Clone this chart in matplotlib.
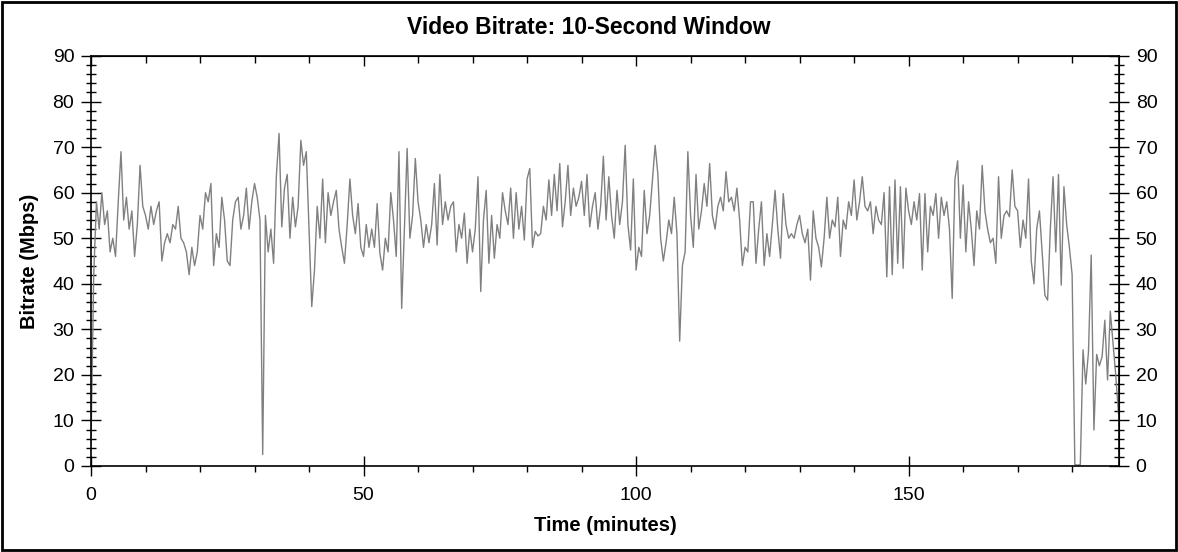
"""
Video bitrate over time, 10-second averaging window.
"""
import numpy as np
import matplotlib
matplotlib.use("Agg")
import matplotlib.pyplot as plt
from matplotlib.patches import Rectangle
from matplotlib.ticker import MultipleLocator

plt.rcParams['font.family'] = ['Liberation Sans', 'DejaVu Sans']

# one reading every half minute (Mbps)
step_min = 0.5
bitrate = [
	# 0-10 min
	5, 42, 58, 52, 60, 53, 56, 47, 50, 46, 58, 69, 54, 59, 52, 56, 46, 53, 66, 57,
	# 10-20
	55, 52, 57, 53, 56, 58, 45, 49, 51, 49, 53, 52, 57, 50, 49, 47, 42, 48, 44, 47,
	# 20-30
	55, 52, 60, 58, 62, 44, 51, 48, 59, 54, 45, 44, 54, 58, 59, 52, 55, 61, 52, 58,
	# 30-40
	62, 59, 54, 2.5, 55, 47, 52, 44.5, 63.5, 73, 52.5, 61, 64, 50, 59, 52.5, 57, 71.5, 66, 69,
	# 40-50
	52, 35, 43, 57, 50, 63, 49, 60, 55, 58, 60.5, 52, 48, 44.5, 53, 63, 55, 51, 57.6, 48,
	# 50-60
	46, 53, 48, 52, 48, 57.6, 46.7, 43, 50, 47, 60, 54, 46, 69, 34.6, 52, 69.7, 50, 55, 67.5,
	# 60-70
	58, 54, 48, 53, 49, 53, 62, 48.5, 64, 53, 58, 54, 57, 58, 47, 53, 50, 55.5, 44.5, 52,
	# 70-80
	47, 52, 63.5, 38.3, 54, 60.5, 44.5, 55, 45.6, 53, 50, 60, 56, 53, 61, 50, 60, 52, 57, 49.6,
	# 80-90
	63, 65.3, 48, 51.5, 50.5, 51, 57, 54, 62.8, 55, 64, 56, 66.4, 52.5, 58, 66, 55, 61, 57, 59,
	# 90-100
	62.5, 55, 64, 52.5, 57, 60, 52, 57, 68, 54, 63.5, 55, 50, 60.5, 53, 58, 70.4, 53, 47.4, 63,
	# 100-110
	43, 48, 46, 60.5, 51, 55, 62.8, 70.4, 64, 50, 45, 49, 54, 51, 59, 51, 27.4, 44, 47, 69,
	# 110-120
	55, 48, 64, 52, 56, 62, 57, 66.4, 55, 52, 57, 59, 56, 64.6, 58, 59, 56, 61, 54, 44,
	# 120-130
	48, 47, 58, 58, 44.5, 52, 58, 44, 51, 46, 53, 60.5, 52, 45.6, 59.8, 53, 50, 51, 50, 53,
	# 130-140
	55, 51, 49, 52, 40.8, 56, 50, 48, 43.7, 50, 59, 50, 54, 52.5, 59, 46, 54, 52, 58, 55,
	# 140-150
	62.8, 54, 58, 63.5, 57, 56, 58, 51, 57, 54, 53, 60, 41.5, 61.3, 42, 62.8, 44.5, 61.3, 43.4, 61,
	# 150-160
	56, 53, 58, 54, 59.8, 43, 59.8, 47, 57, 55, 59.8, 50, 59, 55, 58, 52, 36.8, 63, 67, 50,
	# 160-170
	61.7, 47, 58, 52, 44, 56, 52, 66, 56, 52, 49, 50, 44.5, 63.5, 50, 55, 56, 54.7, 65, 57,
	# 170-180
	56, 48, 54, 50, 63, 45, 40, 52, 56, 47, 37.5, 36.4, 52, 63.5, 47, 64, 39.7, 61.3, 53, 48,
	# 180-188.5
	42, 0.3, 0.2, 0.3, 25.5, 18, 25, 46.3, 7.9, 24.5, 22, 24, 32, 18.9, 34, 27, 20, 11.5,
]
minutes = np.arange(len(bitrate)) * step_min

x_max = 188.6
y_max = 90

fig = plt.figure(figsize=(11.78, 5.52), dpi=100)
ax = fig.add_axes([91 / 1178, 1 - 466 / 552, (1119 - 91) / 1178, (466 - 56) / 552])

ax.plot(minutes, bitrate, color='#808080', linewidth=1.0)

ax.set_xlim(0, x_max)
ax.set_ylim(0, y_max)

# left / bottom ticks
ax.xaxis.set_major_locator(MultipleLocator(50))
ax.xaxis.set_minor_locator(MultipleLocator(10))
ax.yaxis.set_major_locator(MultipleLocator(10))
ax.yaxis.set_minor_locator(MultipleLocator(2))
ax.tick_params(axis='x', which='major', direction='inout', length=14, width=1, labelsize=14, pad=8)
ax.tick_params(axis='x', which='minor', direction='out', length=4, width=1)
ax.tick_params(axis='y', which='major', direction='inout', length=14, width=1, labelsize=14, pad=5)
ax.tick_params(axis='y', which='minor', direction='inout', length=7, width=1)

# top spine gets inward ticks, right spine gets its own labels
top = ax.secondary_xaxis('top')
top.xaxis.set_major_locator(MultipleLocator(50))
top.xaxis.set_minor_locator(MultipleLocator(10))
top.tick_params(which='major', direction='in', length=7, width=1, labeltop=False)
top.tick_params(which='minor', direction='in', length=5, width=1)

right = ax.secondary_yaxis('right')
right.yaxis.set_major_locator(MultipleLocator(10))
right.yaxis.set_minor_locator(MultipleLocator(2))
right.tick_params(which='major', direction='inout', length=14, width=1, labelsize=14, pad=5)
right.tick_params(which='minor', direction='inout', length=7, width=1)

for s in ax.spines.values():
	s.set_linewidth(1.2)

ax.set_xlabel('Time (minutes)', fontsize=14.5, fontweight='bold', labelpad=9)
ax.set_ylabel('Bitrate (Mbps)', fontsize=14.5, fontweight='bold', labelpad=10)
fig.text(0.5, 1 - 27 / 552, 'Video Bitrate: 10-Second Window', ha='center', va='center',
		fontsize=16.5, fontweight='bold')

# frame around the whole picture
fig.patches.append(Rectangle((0.0015, 0.003), 0.997, 0.993, transform=fig.transFigure,
							fill=False, edgecolor='black', linewidth=2))

fig.savefig('out.png', dpi=100)
